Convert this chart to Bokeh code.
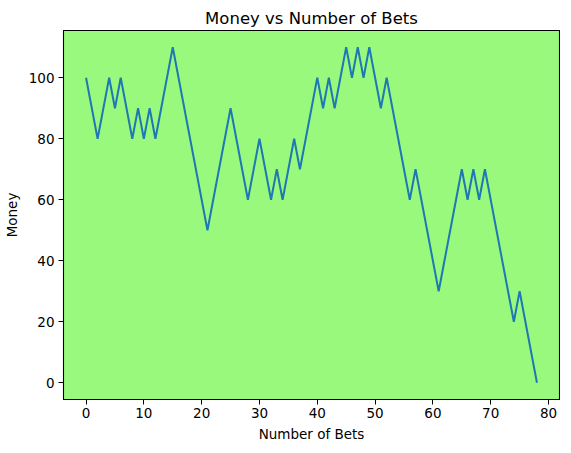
from bokeh.plotting import figure
from bokeh.models import Range1d, FixedTicker
from bokeh.embed import file_html
from bokeh.resources import INLINE

bets = list(range(79))
money = [100, 90, 80, 90, 100, 90, 100, 90, 80, 90,
         80, 90, 80, 90, 100, 110, 100, 90, 80, 70,
         60, 50, 60, 70, 80, 90, 80, 70, 60, 70,
         80, 70, 60, 70, 60, 70, 80, 70, 80, 90,
         100, 90, 100, 90, 100, 110, 100, 110, 100, 110,
         100, 90, 100, 90, 80, 70, 60, 70, 60, 50,
         40, 30, 40, 50, 60, 70, 60, 70, 60, 70,
         60, 50, 40, 30, 20, 30, 20, 10, 0]
x_ticks = [0, 10, 20, 30, 40, 50, 60, 70, 80]
y_ticks = [0, 20, 40, 60, 80, 100]

xpad = (max(bets) - min(bets)) * 0.05
ypad = (max(money) - min(money)) * 0.05

p = figure(width=560, height=444, output_backend="svg", toolbar_location=None,
           title="Money vs Number of Bets",
           x_range=Range1d(min(bets) - xpad, max(bets) + xpad),
           y_range=Range1d(min(money) - ypad, max(money) + ypad))
p.min_border_left = 60
p.min_border_right = 1
p.min_border_top = 30
p.min_border_bottom = 45

p.background_fill_color = "#98f97c"
p.border_fill_color = "white"
p.outline_line_color = "black"
p.outline_line_width = 1.1
p.grid.visible = False

p.title.align = "center"
p.title.text_font = "DejaVu Sans"
p.title.text_font_size = "16.5px"
p.title.text_font_style = "normal"
p.title.text_color = "black"
p.title.standoff = 6

for ax in (p.xaxis[0], p.yaxis[0]):
    ax.axis_line_color = "black"
    ax.major_tick_line_color = "black"
    ax.major_tick_out = 5
    ax.major_tick_in = 0
    ax.minor_tick_line_color = None
    ax.major_label_text_font = "DejaVu Sans"
    ax.major_label_text_font_size = "13.5px"
    ax.major_label_text_color = "black"
    ax.axis_label_text_font = "DejaVu Sans"
    ax.axis_label_text_font_size = "13.5px"
    ax.axis_label_text_font_style = "normal"
    ax.axis_label_text_color = "black"
    ax.major_label_standoff = 4

p.xaxis[0].ticker = FixedTicker(ticks=x_ticks)
p.yaxis[0].ticker = FixedTicker(ticks=y_ticks)
p.xaxis[0].axis_label = "Number of Bets"
p.yaxis[0].axis_label = "Money"
p.xaxis[0].major_label_standoff = 3
p.xaxis[0].axis_label_standoff = 5
p.yaxis[0].axis_label_standoff = 6

p.line(bets, money, line_color="#1f77b4", line_width=2)

open("out.html", "w").write(file_html(p, INLINE))
